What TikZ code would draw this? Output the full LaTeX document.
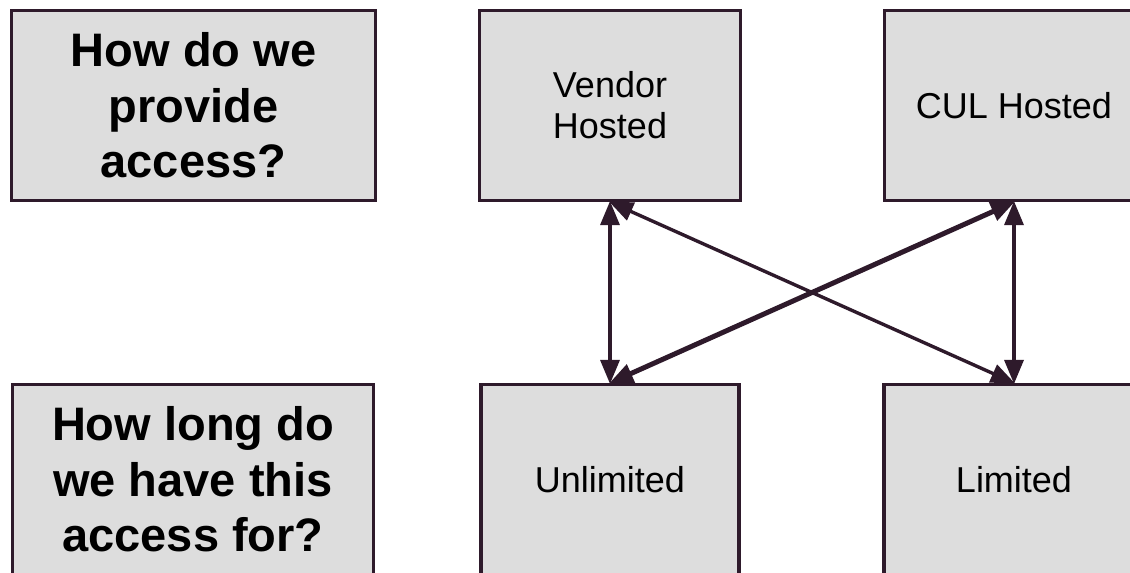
\documentclass[tikz,border=0pt]{standalone}
\usepackage{fontspec}
\setmainfont{Liberation Sans}
\usetikzlibrary{arrows.meta}
\definecolor{edge}{HTML}{2E1A2B}
\definecolor{boxfill}{HTML}{DDDDDD}
\tikzset{
  box/.style={draw=edge, fill=boxfill, line width=3.2pt, rectangle, inner sep=0pt, align=center},
  qbox/.style={box, font=\fontsize{47}{55.5}\selectfont\bfseries},
  obox/.style={box, font=\fontsize{36}{41}\selectfont},
  link/.style={draw=edge, line width=3.4pt, {Triangle[length=24pt,width=19pt]}-{Triangle[length=24pt,width=19pt]}, shorten <=-1pt, shorten >=-1pt},
  thicklink/.style={link, line width=5pt}
}
\begin{document}
\begin{tikzpicture}[x=1pt,y=-1pt]
\useasboundingbox (0,0) rectangle (1130,573);
\clip (0,0) rectangle (1130,573);
\node[qbox, minimum width=364pt, minimum height=190pt] (q1) at (193.5,105.5) {How do we\\provide\\access?};
\node[qbox, minimum width=361pt, minimum height=190pt] (q2) at (193,479.5) {How long do\\we have this\\access for?};
\node[obox, minimum width=261pt, minimum height=190pt] (vh) at (610,105.5) {Vendor\\Hosted};
\node[obox, minimum width=259pt, minimum height=190pt] (cul) at (1014,105.5) {CUL Hosted};
\node[obox, minimum width=258pt, minimum height=190pt] (un) at (610,479.5) {Unlimited};
\node[obox, minimum width=260pt, minimum height=190pt] (lim) at (1014,479.5) {Limited};
\draw[link] (vh.south) -- (un.north);
\draw[link] (cul.south) -- (lim.north);
\draw[link] (vh.south) -- (lim.north);
\draw[thicklink] (un.north) -- (cul.south);
\end{tikzpicture}
\end{document}
